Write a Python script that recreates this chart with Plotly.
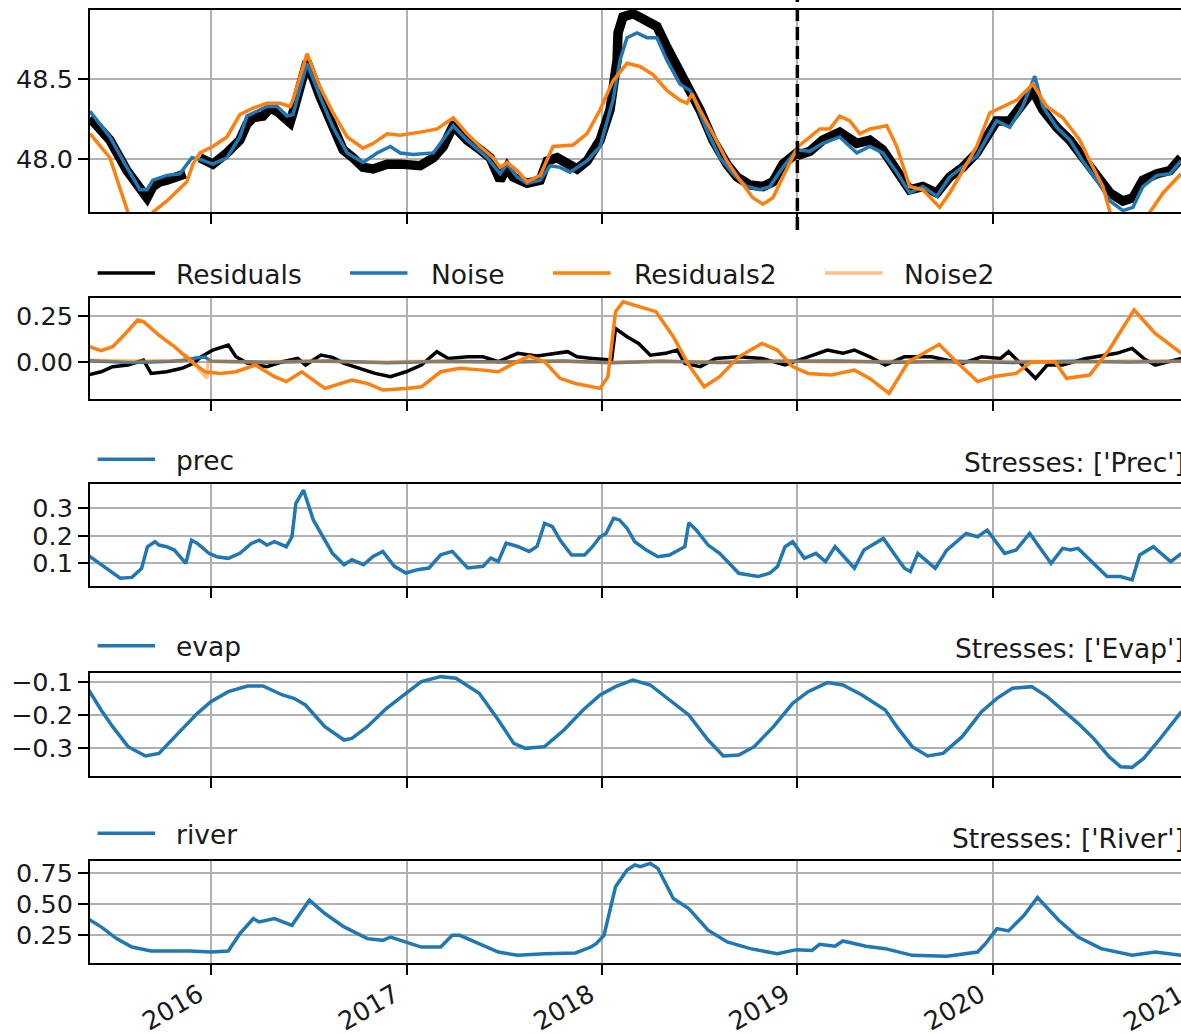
import pandas as pd
import plotly.graph_objects as go

# ---------------- data (decimal years, values) ----------------
obs_t = [2015.381, 2015.483, 2015.570, 2015.621, 2015.652, 2015.673, 2015.703, 2015.739, 2015.775, 2015.806,
         2015.857, 2015.870, 2015.900, 2015.944, 2016.010, 2016.082, 2016.148, 2016.184, 2016.215, 2016.266,
         2016.302, 2016.338, 2016.368, 2016.404, 2016.419, 2016.455, 2016.491, 2016.558, 2016.624, 2016.675,
         2016.726, 2016.777, 2016.829, 2016.900, 2016.967, 2017.069, 2017.136, 2017.187, 2017.238, 2017.309,
         2017.376, 2017.427, 2017.478, 2017.514, 2017.545, 2017.616, 2017.683, 2017.719, 2017.770, 2017.821,
         2017.872, 2017.923, 2017.990, 2018.041, 2018.077, 2018.082, 2018.107, 2018.159, 2018.210, 2018.281,
         2018.332, 2018.384, 2018.435, 2018.465, 2018.501, 2018.568, 2018.639, 2018.691, 2018.757, 2018.824,
         2018.875, 2018.926, 2018.997, 2019.013, 2019.064, 2019.130, 2019.217, 2019.304, 2019.371, 2019.437,
         2019.509, 2019.575, 2019.642, 2019.714, 2019.780, 2019.847, 2019.918, 2019.985, 2020.020, 2020.087,
         2020.153, 2020.205, 2020.256, 2020.327, 2020.394, 2020.460, 2020.532, 2020.599, 2020.665, 2020.716,
         2020.767, 2020.839, 2020.905, 2020.962]
obs_v = [48.26, 48.12, 47.93, 47.84, 47.79, 47.76, 47.83, 47.86, 47.87, 47.88,
         47.90, 47.91, None, 48.01, 47.97, 48.04, 48.12, 48.22, 48.26, 48.27,
         48.32, 48.30, 48.26, 48.23, 48.29, 48.47, 48.61, 48.39, 48.20, 48.06,
         48.01, 47.95, 47.94, 47.97, 47.97, 47.96, 48.01, 48.08, 48.21, 48.12,
         48.06, 48.01, 47.87, 47.95, 47.89, 47.85, 47.87, 47.99, 48.01, 47.97,
         47.94, 47.99, 48.12, 48.31, 48.62, 48.79, 48.89, 48.91, 48.88, 48.83,
         48.70, 48.58, 48.45, 48.41, 48.31, 48.12, 47.97, 47.89, 47.84, 47.83,
         47.86, 47.97, 48.04, 48.03, 48.05, 48.12, 48.17, 48.10, 48.12, 48.06,
         47.93, 47.81, 47.83, 47.79, 47.89, 47.95, 48.04, 48.16, 48.24, 48.24,
         48.35, 48.43, 48.31, 48.20, 48.12, 48.01, 47.91, 47.79, 47.74, 47.76,
         47.87, 47.91, 47.93, 48.01]

sim_t = [2015.381, 2015.483, 2015.570, 2015.637, 2015.673, 2015.703, 2015.775, 2015.841, 2015.903, 2015.944,
         2016.010, 2016.082, 2016.148, 2016.184, 2016.251, 2016.286, 2016.338, 2016.389, 2016.419, 2016.491,
         2016.558, 2016.624, 2016.696, 2016.777, 2016.849, 2016.916, 2016.967, 2017.033, 2017.136, 2017.238,
         2017.309, 2017.412, 2017.478, 2017.514, 2017.565, 2017.616, 2017.683, 2017.734, 2017.785, 2017.836,
         2017.923, 2017.990, 2018.056, 2018.092, 2018.128, 2018.179, 2018.230, 2018.281, 2018.332, 2018.399,
         2018.450, 2018.465, 2018.537, 2018.604, 2018.670, 2018.742, 2018.808, 2018.859, 2018.926, 2018.997,
         2019.064, 2019.130, 2019.217, 2019.304, 2019.371, 2019.437, 2019.509, 2019.575, 2019.642, 2019.714,
         2019.780, 2019.918, 2020.020, 2020.087, 2020.153, 2020.215, 2020.256, 2020.327, 2020.394, 2020.460,
         2020.532, 2020.599, 2020.665, 2020.716, 2020.767, 2020.839, 2020.905, 2020.962]
sim_v = [48.30, 48.14, 47.95, 47.81, 47.81, 47.87, 47.90, 47.91, 48.01, 48.00,
         47.97, 48.01, 48.14, 48.27, 48.31, 48.33, 48.33, 48.27, 48.28, 48.60,
         48.39, 48.20, 48.04, 47.98, 48.04, 48.08, 48.04, 48.03, 48.04, 48.21,
         48.12, 48.01, 47.91, 47.97, 47.89, 47.85, 47.87, 47.96, 47.95, 47.92,
         47.99, 48.08, 48.37, 48.62, 48.76, 48.79, 48.76, 48.76, 48.62, 48.47,
         48.43, 48.40, 48.18, 48.01, 47.91, 47.83, 47.81, 47.83, 47.95, 48.06,
         48.05, 48.10, 48.14, 48.04, 48.08, 48.04, 47.92, 47.79, 47.83, 47.77,
         47.89, 48.02, 48.24, 48.20, 48.33, 48.52, 48.33, 48.20, 48.12, 47.99,
         47.87, 47.74, 47.68, 47.70, 47.83, 47.90, 47.91, 47.99]

sim2_t = [2015.381, 2015.483, 2015.575, 2015.621, 2015.662, 2015.703, 2015.775, 2015.877, 2015.908, 2015.944,
          2016.010, 2016.082, 2016.148, 2016.215, 2016.286, 2016.353, 2016.404, 2016.419, 2016.491, 2016.558,
          2016.624, 2016.696, 2016.777, 2016.829, 2016.900, 2016.967, 2017.069, 2017.156, 2017.238, 2017.309,
          2017.376, 2017.442, 2017.478, 2017.514, 2017.565, 2017.616, 2017.683, 2017.749, 2017.852, 2017.923,
          2017.990, 2018.056, 2018.128, 2018.194, 2018.261, 2018.332, 2018.399, 2018.435, 2018.460, 2018.501,
          2018.568, 2018.639, 2018.706, 2018.772, 2018.824, 2018.875, 2018.926, 2019.003, 2019.115, 2019.166,
          2019.217, 2019.269, 2019.320, 2019.371, 2019.458, 2019.509, 2019.575, 2019.642, 2019.729, 2019.780,
          2019.847, 2019.918, 2019.985, 2020.051, 2020.123, 2020.205, 2020.276, 2020.358, 2020.445, 2020.496,
          2020.563, 2020.599, 2020.700, 2020.750, 2020.803, 2020.870, 2020.962]
sim2_v = [48.16, 48.01, 47.67, 47.59, 47.58, 47.67, 47.74, 47.86, 47.97, 48.04,
          48.08, 48.14, 48.28, 48.32, 48.35, 48.35, 48.33, 48.37, 48.66, 48.45,
          48.29, 48.14, 48.07, 48.10, 48.16, 48.15, 48.17, 48.19, 48.26, 48.16,
          48.08, 48.01, 47.95, 47.98, 47.93, 47.86, 47.90, 48.08, 48.09, 48.16,
          48.31, 48.49, 48.60, 48.58, 48.53, 48.43, 48.37, 48.35, 48.41, 48.31,
          48.16, 47.99, 47.87, 47.76, 47.72, 47.76, 47.89, 48.08, 48.19, 48.19,
          48.27, 48.24, 48.16, 48.19, 48.21, 48.08, 47.83, 47.81, 47.70, 47.79,
          47.93, 48.08, 48.29, 48.33, 48.37, 48.47, 48.33, 48.26, 48.12, 47.99,
          47.83, 47.67, 47.50, 47.50, 47.67, 47.79, 47.91]

res_t = [2015.369, 2015.438, 2015.497, 2015.576, 2015.655, 2015.694, 2015.773, 2015.852, 2015.911, 2015.951,
         2016.010, 2016.089, 2016.128, 2016.187, 2016.286, 2016.365, 2016.444, 2016.483, 2016.562, 2016.621,
         2016.680, 2016.759, 2016.838, 2016.917, 2016.996, 2017.075, 2017.154, 2017.213, 2017.312, 2017.391,
         2017.469, 2017.568, 2017.667, 2017.824, 2017.872, 2017.951, 2018.049, 2018.069, 2018.128, 2018.187,
         2018.247, 2018.325, 2018.385, 2018.424, 2018.503, 2018.582, 2018.700, 2018.819, 2018.937, 2019.055,
         2019.154, 2019.233, 2019.292, 2019.371, 2019.450, 2019.548, 2019.686, 2019.844, 2019.943, 2020.041,
         2020.081, 2020.160, 2020.219, 2020.278, 2020.357, 2020.475, 2020.633, 2020.712, 2020.771, 2020.830,
         2020.964]
res_v = [-0.073, -0.055, -0.027, -0.018, 0.009, -0.064, -0.055, -0.036, -0.009, 0.027,
         0.064, 0.091, 0.027, -0.009, -0.027, 0.000, 0.018, -0.018, 0.036, 0.024,
         -0.009, -0.036, -0.064, -0.082, -0.055, -0.018, 0.055, 0.018, 0.027, 0.027,
         0.000, 0.046, 0.031, 0.055, 0.027, 0.018, 0.009, 0.182, 0.137, 0.100,
         0.036, 0.046, 0.064, -0.009, -0.027, 0.018, 0.027, 0.018, -0.018, 0.027,
         0.064, 0.046, 0.064, 0.027, -0.018, 0.027, 0.027, -0.009, 0.027, 0.018,
         0.055, -0.027, -0.091, -0.018, -0.018, 0.018, 0.046, 0.073, 0.018, -0.018,
         0.018]

res2_t = [2015.369, 2015.438, 2015.497, 2015.556, 2015.625, 2015.655, 2015.734, 2015.813, 2015.892, 2015.970,
          2016.049, 2016.128, 2016.227, 2016.325, 2016.385, 2016.464, 2016.582, 2016.641, 2016.720, 2016.799,
          2016.878, 2016.996, 2017.075, 2017.174, 2017.272, 2017.391, 2017.469, 2017.548, 2017.627, 2017.706,
          2017.785, 2017.864, 2017.951, 2017.990, 2018.030, 2018.069, 2018.108, 2018.187, 2018.276, 2018.365,
          2018.444, 2018.523, 2018.602, 2018.700, 2018.819, 2018.897, 2018.976, 2019.055, 2019.174, 2019.292,
          2019.371, 2019.469, 2019.568, 2019.647, 2019.726, 2019.805, 2019.923, 2020.002, 2020.120, 2020.199,
          2020.318, 2020.377, 2020.495, 2020.594, 2020.722, 2020.830, 2020.964]
res2_v = [0.086, 0.060, 0.082, 0.146, 0.228, 0.219, 0.146, 0.082, 0.009, -0.055,
          -0.064, -0.055, -0.018, -0.082, -0.109, -0.055, -0.146, -0.128, -0.100, -0.119,
          -0.155, -0.146, -0.137, -0.055, -0.036, -0.046, -0.055, -0.009, 0.031, 0.000,
          -0.091, -0.119, -0.137, -0.146, -0.082, 0.274, 0.328, 0.301, 0.274, 0.137,
          -0.018, -0.137, -0.082, 0.027, 0.100, 0.064, -0.027, -0.064, -0.073, -0.046,
          -0.091, -0.173, 0.000, 0.046, 0.095, 0.009, -0.109, -0.082, -0.064, 0.000,
          0.000, -0.091, -0.073, 0.064, 0.283, 0.155, 0.046]

noise_t = [2015.38, 2015.60, 2015.80, 2015.85, 2015.93, 2015.97, 2016.00, 2016.30, 2016.60, 2016.90,
           2017.20, 2017.50, 2017.80, 2018.05, 2018.30, 2018.60, 2018.90, 2019.20, 2019.50, 2019.80,
           2020.10, 2020.40, 2020.70, 2020.97]
noise_v = [0.005, -0.004, 0.003, 0.006, 0.022, 0.026, 0.002, -0.003, 0.004, -0.005,
           0.003, -0.002, 0.004, -0.006, 0.003, -0.004, 0.002, 0.004, -0.003, 0.002,
           -0.004, 0.003, -0.002, 0.003]

noise2_t = [2015.38, 2015.60, 2015.86, 2015.87, 2015.98, 2015.985, 2016.20, 2016.50, 2016.80, 2017.10,
            2017.40, 2017.70, 2018.00, 2018.30, 2018.60, 2018.90, 2019.20, 2019.50, 2019.80, 2020.10,
            2020.40, 2020.70, 2020.97]
noise2_v = [0.008, 0.004, 0.006, 0.040, -0.090, 0.004, -0.003, 0.004, -0.004, 0.003,
            -0.003, 0.004, -0.004, 0.003, -0.003, 0.004, -0.002, 0.003, -0.004, 0.003,
            -0.003, 0.004, 0.002]

prec_t = [2015.369, 2015.418, 2015.477, 2015.536, 2015.596, 2015.645, 2015.675, 2015.714, 2015.734, 2015.773,
          2015.813, 2015.872, 2015.901, 2015.931, 2015.990, 2016.030, 2016.089, 2016.148, 2016.207, 2016.247,
          2016.286, 2016.325, 2016.385, 2016.414, 2016.434, 2016.473, 2016.523, 2016.621, 2016.680, 2016.720,
          2016.779, 2016.828, 2016.878, 2016.937, 2016.996, 2017.055, 2017.114, 2017.174, 2017.233, 2017.312,
          2017.391, 2017.430, 2017.469, 2017.509, 2017.568, 2017.627, 2017.667, 2017.706, 2017.746, 2017.785,
          2017.844, 2017.911, 2017.951, 2017.990, 2018.020, 2018.059, 2018.089, 2018.128, 2018.168, 2018.227,
          2018.286, 2018.345, 2018.424, 2018.444, 2018.483, 2018.543, 2018.602, 2018.700, 2018.799, 2018.858,
          2018.898, 2018.937, 2018.976, 2019.036, 2019.095, 2019.144, 2019.193, 2019.292, 2019.341, 2019.440,
          2019.548, 2019.578, 2019.617, 2019.706, 2019.765, 2019.824, 2019.864, 2019.923, 2019.972, 2020.061,
          2020.120, 2020.189, 2020.298, 2020.357, 2020.397, 2020.436, 2020.584, 2020.653, 2020.712, 2020.751,
          2020.820, 2020.909, 2020.964]
prec_v = [0.130, 0.106, 0.076, 0.046, 0.049, 0.081, 0.160, 0.178, 0.166, 0.160,
          0.148, 0.100, 0.184, 0.172, 0.136, 0.124, 0.118, 0.136, 0.172, 0.184,
          0.166, 0.178, 0.160, 0.196, 0.317, 0.365, 0.257, 0.136, 0.095, 0.113,
          0.095, 0.125, 0.143, 0.089, 0.065, 0.077, 0.083, 0.131, 0.143, 0.083,
          0.089, 0.119, 0.107, 0.173, 0.161, 0.143, 0.161, 0.245, 0.233, 0.184,
          0.130, 0.130, 0.160, 0.196, 0.208, 0.263, 0.257, 0.227, 0.178, 0.148,
          0.124, 0.130, 0.160, 0.247, 0.220, 0.166, 0.136, 0.064, 0.052, 0.064,
          0.088, 0.160, 0.178, 0.118, 0.136, 0.106, 0.160, 0.082, 0.148, 0.190,
          0.082, 0.070, 0.136, 0.082, 0.148, 0.184, 0.208, 0.196, 0.220, 0.136,
          0.148, 0.208, 0.100, 0.154, 0.148, 0.154, 0.052, 0.052, 0.040, 0.130,
          0.160, 0.106, 0.136]

evap_t = [2015.369, 2015.438, 2015.497, 2015.576, 2015.665, 2015.734, 2015.832, 2015.931, 2016.000, 2016.089,
          2016.187, 2016.266, 2016.365, 2016.424, 2016.483, 2016.582, 2016.680, 2016.720, 2016.799, 2016.897,
          2016.996, 2017.075, 2017.174, 2017.252, 2017.371, 2017.469, 2017.548, 2017.608, 2017.706, 2017.805,
          2017.903, 2017.990, 2018.069, 2018.158, 2018.247, 2018.345, 2018.444, 2018.543, 2018.621, 2018.700,
          2018.779, 2018.878, 2018.976, 2019.055, 2019.154, 2019.233, 2019.331, 2019.450, 2019.509, 2019.588,
          2019.667, 2019.746, 2019.844, 2019.943, 2020.022, 2020.101, 2020.199, 2020.278, 2020.357, 2020.436,
          2020.515, 2020.594, 2020.653, 2020.712, 2020.771, 2020.850, 2020.964]
evap_v = [-0.120, -0.185, -0.235, -0.295, -0.323, -0.315, -0.255, -0.195, -0.160, -0.130,
          -0.113, -0.113, -0.140, -0.150, -0.170, -0.235, -0.275, -0.270, -0.235, -0.180,
          -0.135, -0.100, -0.085, -0.090, -0.135, -0.215, -0.285, -0.300, -0.295, -0.245,
          -0.185, -0.140, -0.115, -0.095, -0.110, -0.155, -0.200, -0.275, -0.323, -0.320,
          -0.295, -0.235, -0.165, -0.130, -0.103, -0.110, -0.140, -0.185, -0.235, -0.295,
          -0.323, -0.315, -0.265, -0.190, -0.150, -0.120, -0.115, -0.145, -0.185, -0.225,
          -0.270, -0.325, -0.355, -0.357, -0.330, -0.275, -0.190]

river_t = [2015.369, 2015.438, 2015.517, 2015.596, 2015.694, 2015.793, 2015.892, 2016.000, 2016.089, 2016.148,
           2016.217, 2016.247, 2016.325, 2016.414, 2016.503, 2016.582, 2016.680, 2016.799, 2016.878, 2016.917,
           2016.996, 2017.075, 2017.174, 2017.233, 2017.272, 2017.371, 2017.469, 2017.568, 2017.706, 2017.864,
           2017.943, 2017.970, 2018.010, 2018.069, 2018.128, 2018.168, 2018.197, 2018.247, 2018.286, 2018.365,
           2018.444, 2018.543, 2018.641, 2018.759, 2018.897, 2018.996, 2019.075, 2019.114, 2019.193, 2019.233,
           2019.351, 2019.450, 2019.588, 2019.765, 2019.923, 2019.963, 2020.022, 2020.081, 2020.160, 2020.229,
           2020.337, 2020.436, 2020.554, 2020.712, 2020.830, 2020.964]
river_v = [0.385, 0.318, 0.223, 0.155, 0.123, 0.123, 0.123, 0.115, 0.123, 0.263,
           0.385, 0.358, 0.385, 0.331, 0.534, 0.426, 0.318, 0.223, 0.209, 0.236,
           0.196, 0.155, 0.155, 0.250, 0.250, 0.182, 0.115, 0.088, 0.101, 0.107,
           0.155, 0.182, 0.250, 0.642, 0.777, 0.818, 0.804, 0.831, 0.791, 0.547,
           0.466, 0.291, 0.196, 0.142, 0.101, 0.134, 0.128, 0.177, 0.161, 0.204,
           0.161, 0.142, 0.088, 0.080, 0.115, 0.182, 0.304, 0.285, 0.412, 0.555,
           0.372, 0.236, 0.142, 0.088, 0.115, 0.088]

split_date = "2019-01-01"
x_start, x_end = 2015.3811, 2020.9616
year_ticks = [2016, 2017, 2018, 2019, 2020]
last_tick_label = "2021"

# ---------------- helpers ----------------
def to_date(y):
    yr = int(y)
    a = pd.Timestamp(year=yr, month=1, day=1)
    b = pd.Timestamp(year=yr + 1, month=1, day=1)
    return (a + (b - a) * (y - yr)).isoformat()

def dates(ts):
    return [to_date(t) for t in ts]

FONT = "DejaVu Sans"
FS = 26.5
TFS = 25.5
TXT = "#1a1a1a"
BLUE = "#1f77b4"
ORANGE = "#ff7f0e"
NOISE2 = "rgba(255,127,14,0.5)"
GRID = "#b0b0b0"

# plot area in pixels
L, R, T, B = 90, 1181, 10, 963
def pxx(px):
    return (px - L) / (R - L)
def pxy(py):
    return (B - py) / (B - T)

panels = [(10, 212), (298.3, 399), (484, 585.7), (673.3, 775.7), (860.7, 963)]
yranges = [[47.671, 48.933], [-0.204, 0.347], [0.019, 0.387], [-0.382, -0.075], [0.026, 0.853]]
ytickv = [[48.0, 48.5], [0.0, 0.25], [0.1, 0.2, 0.3], [-0.3, -0.2, -0.1], [0.25, 0.5, 0.75]]
ytickt = [["48.0", "48.5"], ["0.00", "0.25"], ["0.1", "0.2", "0.3"],
          ["\u22120.3", "\u22120.2", "\u22120.1"], ["0.25", "0.50", "0.75"]]

fig = go.Figure()

def add(t, v, row, color, width, name):
    fig.add_trace(go.Scatter(
        x=dates(t), y=v, mode="lines", name=name, showlegend=False,
        line=dict(color=color, width=width), connectgaps=False,
        xaxis="x" if row == 1 else f"x{row}", yaxis="y" if row == 1 else f"y{row}"))

add(obs_t, obs_v, 1, "black", 9.5, "Observations")
add(sim_t, sim_v, 1, BLUE, 3.5, "Simulation")
add(sim2_t, sim2_v, 1, ORANGE, 3.5, "Simulation2")
add(res_t, res_v, 2, "black", 3.5, "Residuals")
add(noise_t, noise_v, 2, BLUE, 3.5, "Noise")
add(res2_t, res2_v, 2, ORANGE, 3.5, "Residuals2")
add(noise2_t, noise2_v, 2, NOISE2, 3.5, "Noise2")
add(prec_t, prec_v, 3, BLUE, 3.5, "prec")
add(evap_t, evap_v, 4, BLUE, 3.5, "evap")
add(river_t, river_v, 5, BLUE, 3.5, "river")

layout = dict(
    width=1181, height=1034,
    margin=dict(l=L, r=1181 - R, t=T, b=1034 - B),
    paper_bgcolor="white", plot_bgcolor="white",
    font=dict(family=FONT, size=FS, color=TXT),
    showlegend=False,
)
for i in range(5):
    sfx = "" if i == 0 else str(i + 1)
    top, bot = panels[i]
    layout["xaxis" + sfx] = dict(
        domain=[0, 1], anchor="y" + sfx, type="date", automargin=False,
        range=[to_date(x_start), to_date(x_end)],
        tickvals=[f"{y}-01-01" for y in year_ticks], ticktext=[str(y) for y in year_ticks],
        showgrid=True, gridcolor=GRID, gridwidth=2,
        ticks="outside", ticklen=10, tickwidth=2, tickcolor="black",
        showline=True, mirror=True, linecolor="black", linewidth=2,
        zeroline=False, showticklabels=(i == 4), tickangle=-30,
        ticklabelshift=-12, ticklabelstandoff=-5,
        tickfont=dict(family=FONT, size=TFS, color=TXT),
    )
    if i > 0:
        layout["xaxis" + sfx]["matches"] = "x"
    layout["yaxis" + sfx] = dict(
        domain=[max(0, pxy(bot)), min(1, pxy(top))], anchor="x" + sfx, automargin=False,
        range=yranges[i], tickvals=ytickv[i], ticktext=ytickt[i],
        showgrid=True, gridcolor=GRID, gridwidth=2,
        ticks="outside", ticklen=10, tickwidth=2, tickcolor="black",
        showline=True, mirror=True, linecolor="black", linewidth=2,
        zeroline=False, tickfont=dict(family=FONT, size=TFS, color=TXT),
    )

shapes = []
annotations = []
# calibration split line
shapes.append(dict(type="line", xref="x", yref="paper", x0=split_date, x1=split_date,
                   y0=pxy(230), y1=pxy(0), line=dict(color="black", width=3.5, dash="13px,6px")))

def legend_item(x0, y, color, text, tx):
    shapes.append(dict(type="line", xref="paper", yref="paper", x0=pxx(x0), x1=pxx(x0 + 57.5),
                       y0=pxy(y), y1=pxy(y), line=dict(color=color, width=3.5)))
    annotations.append(dict(xref="paper", yref="paper", x=pxx(tx), y=pxy(y + 1), text=text,
                            showarrow=False, xanchor="left", yanchor="middle",
                            font=dict(family=FONT, size=FS, color=TXT)))

legend_item(97.6, 273, "black", "Residuals", 174)
legend_item(350, 273, BLUE, "Noise", 428.6)
legend_item(553, 273, ORANGE, "Residuals2", 631.7)
legend_item(825, 273, NOISE2, "Noise2", 901.5)
legend_item(97.6, 459.3, BLUE, "prec", 174)
legend_item(97.6, 645.7, BLUE, "evap", 174)
legend_item(97.6, 833.3, BLUE, "river", 174)

for txt, yc in [("Stresses: ['Prec']", 462.5), ("Stresses: ['Evap']", 648.3), ("Stresses: ['River']", 838)]:
    annotations.append(dict(xref="paper", yref="paper", x=pxx(1187), y=pxy(yc), text=txt,
                            showarrow=False, xanchor="right", yanchor="middle",
                            font=dict(family=FONT, size=FS, color=TXT)))

# last year label (its tick lies just beyond the cropped right edge)
annotations.append(dict(xref="paper", yref="paper", x=pxx(1192), y=pxy(976), text=last_tick_label,
                        showarrow=False, xanchor="right", yanchor="top", textangle=-30,
                        font=dict(family=FONT, size=TFS, color=TXT)))

layout["shapes"] = shapes
layout["annotations"] = annotations
fig.update_layout(**layout)
fig.write_html("out.html", config={"displayModeBar": False},
               post_script="document.body.style.margin='0';document.body.style.overflow='hidden';")
